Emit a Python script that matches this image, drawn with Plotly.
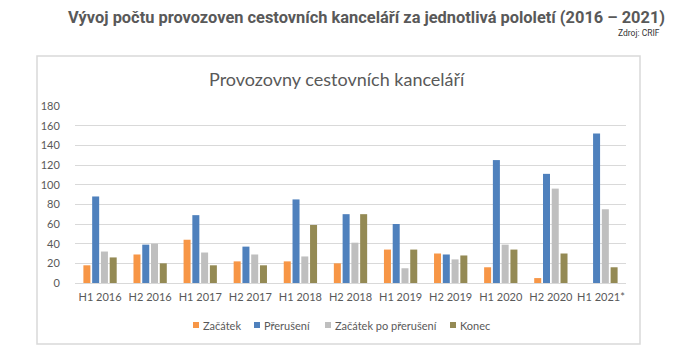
import plotly.graph_objects as go

categories = ["H1 2016", "H2 2016", "H1 2017", "H2 2017", "H1 2018", "H2 2018",
              "H1 2019", "H2 2019", "H1 2020", "H2 2020", "H1 2021*"]
zacatek = [18, 29, 44, 22, 22, 20, 34, 30, 16, 5, None]
preruseni = [88, 39, 69, 37, 85, 70, 60, 29, 125, 111, 152]
zacatek_po = [32, 40, 31, 29, 27, 41, 15, 24, 39, 96, 75]
konec = [26, 20, 18, 18, 59, 70, 34, 28, 34, 30, 16]
series_names = ["Začátek", "Přerušení", "Začátek po přerušení", "Konec"]
colors = ["#F79646", "#4F81BD", "#BFBFBF", "#948A54"]
y_ticks = [0, 20, 40, 60, 80, 100, 120, 140, 160, 180]

W, H = 674, 350
L, R, T, B = 75, 626, 106, 283

def px(x):
    return (x - L) / (R - L)

def py(y):
    return (B - y) / (B - T)

fig = go.Figure()
for name, vals, c in zip(series_names, [zacatek, preruseni, zacatek_po, konec], colors):
    fig.add_trace(go.Bar(x=categories, y=vals, name=name, marker=dict(color=c, line=dict(width=0))))

# custom compact legend (square + label), positions in pixels
legend_square_x = [193, 254, 325, 450]
legend_y = 325
shapes = [dict(type="rect", xref="paper", yref="paper",
               x0=px(37), x1=px(640), y0=py(344), y1=py(56),
               line=dict(color="#D9D9D9", width=1.5), fillcolor="rgba(0,0,0,0)", layer="below")]
annotations = []
for name, c, sx in zip(series_names, colors, legend_square_x):
    shapes.append(dict(type="rect", xref="paper", yref="paper",
                       x0=px(sx), x1=px(sx + 6), y0=py(legend_y + 3), y1=py(legend_y - 3),
                       line=dict(width=0), fillcolor=c))
    annotations.append(dict(text=name, xref="paper", yref="paper", x=px(sx + 8), y=py(legend_y),
                            xanchor="left", yanchor="middle", showarrow=False,
                            font=dict(family="Lato, sans-serif", size=11, color="#595959")))

annotations += [
    dict(text="<b>Vývoj počtu provozoven cestovních kanceláří za jednotlivá pololetí (2016 – 2021)</b>",
         xref="paper", yref="paper", x=px(667), y=py(18), xanchor="right", yanchor="middle",
         showarrow=False, font=dict(family="Roboto, sans-serif", size=16.4, color="#595959")),
    dict(text="Zdroj: CRIF", xref="paper", yref="paper", x=px(662), y=py(33),
         xanchor="right", yanchor="middle", showarrow=False,
         font=dict(family="Roboto, sans-serif", size=8.5, color="#333333")),
    dict(text="Provozovny cestovních kanceláří", xref="paper", yref="paper",
         x=px(337), y=py(79), xanchor="center", yanchor="middle", showarrow=False,
         font=dict(family="Lato, sans-serif", size=18, color="#595959")),
]

fig.update_layout(
    width=W, height=H,
    margin=dict(l=L, r=W - R, t=T, b=H - B, pad=0),
    paper_bgcolor="white", plot_bgcolor="white",
    barmode="group", bargap=0.3, bargroupgap=0.2,
    font=dict(family="Lato, Open Sans, sans-serif", color="#595959", size=11),
    showlegend=False,
    xaxis=dict(showgrid=False, showline=True, linecolor="#D9D9D9", linewidth=1,
               ticks="outside", ticklen=4, tickcolor="rgba(0,0,0,0)",
               tickfont=dict(size=11, color="#595959"), fixedrange=True),
    yaxis=dict(range=[0, 180], tickvals=y_ticks, showgrid=True, gridcolor="#D9D9D9",
               gridwidth=1, zeroline=False, showline=False, ticks="outside",
               ticklen=12, tickcolor="rgba(0,0,0,0)",
               tickfont=dict(size=11, color="#595959"), fixedrange=True),
    shapes=shapes,
    annotations=annotations,
)

fig.write_html("out.html")
